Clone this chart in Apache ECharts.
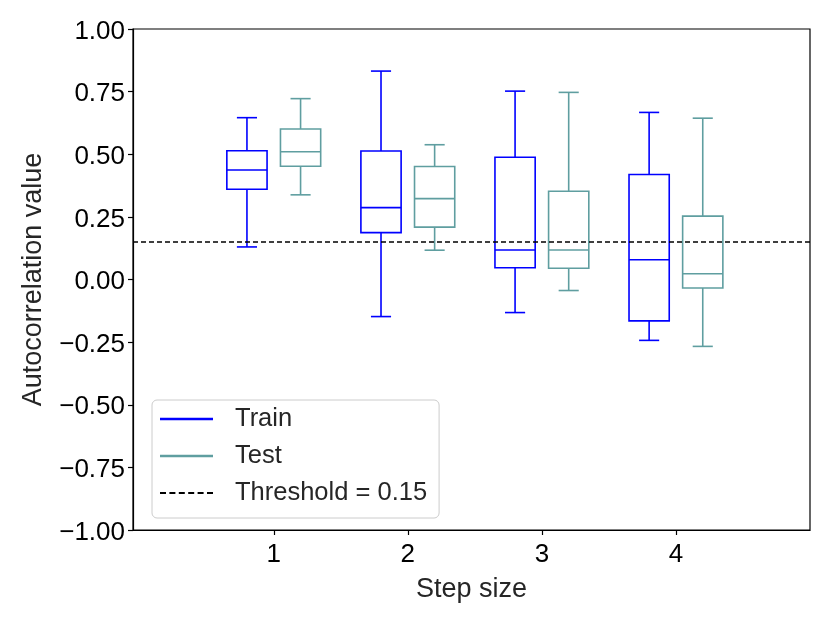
<!DOCTYPE html>
<html>
<head>
<meta charset="utf-8">
<script src="https://cdn.jsdelivr.net/npm/echarts@6/dist/echarts.min.js"></script>
<style>html,body{margin:0;padding:0;background:#fff;}#c{width:830px;height:623px;}</style>
</head>
<body>
<div id="c"></div>
<script>
var steps = [1, 2, 3, 4];
var trainMin = [0.13, -0.148, -0.132, -0.243];
var trainQ1  = [0.36, 0.187, 0.047, -0.165];
var trainMed = [0.437, 0.287, 0.118, 0.079];
var trainQ3  = [0.514, 0.513, 0.488, 0.419];
var trainMax = [0.646, 0.832, 0.752, 0.667];
var testMin = [0.338, 0.117, -0.044, -0.267];
var testQ1  = [0.452, 0.209, 0.045, -0.034];
var testMed = [0.51, 0.323, 0.118, 0.023];
var testQ3  = [0.601, 0.451, 0.352, 0.253];
var testMax = [0.722, 0.538, 0.747, 0.644];
var threshold = 0.15;
var yTicks = [-1, -0.75, -0.5, -0.25, 0, 0.25, 0.5, 0.75, 1];

var FONT = '"Liberation Sans", Arial, Helvetica, sans-serif';
var TRAIN_C = '#0000ff', TEST_C = '#5f9ea0';
var OFFSET = 0.2, BOXW = 0.3;

function build(mins, q1s, meds, q3s, maxs, off) {
  return steps.map(function (s, i) { return [s + off, mins[i], q1s[i], meds[i], q3s[i], maxs[i]]; });
}

function renderBox(color) {
  return function (params, api) {
    var x = api.value(0);
    var pMin = api.coord([x, api.value(1)]);
    var pQ1 = api.coord([x, api.value(2)]);
    var pMed = api.coord([x, api.value(3)]);
    var pQ3 = api.coord([x, api.value(4)]);
    var pMax = api.coord([x, api.value(5)]);
    var w = api.size([BOXW, 0])[0];
    var cx = pMed[0];
    var st = { stroke: color, lineWidth: 1.6, fill: null };
    function line(x1, y1, x2, y2) { return { type: 'line', shape: { x1: x1, y1: y1, x2: x2, y2: y2 }, style: st }; }
    return {
      type: 'group',
      children: [
        line(cx, pMin[1], cx, pQ1[1]),
        line(cx, pQ3[1], cx, pMax[1]),
        line(cx - w / 4, pMin[1], cx + w / 4, pMin[1]),
        line(cx - w / 4, pMax[1], cx + w / 4, pMax[1]),
        { type: 'rect', shape: { x: cx - w / 2, y: pQ3[1], width: w, height: pQ1[1] - pQ3[1] }, style: { stroke: color, lineWidth: 1.6, fill: 'rgba(0,0,0,0)' } },
        line(cx - w / 2, pMed[1], cx + w / 2, pMed[1])
      ]
    };
  };
}

var dashIcon = 'path://M0,0h6v2h-6zM9.4,0h6v2h-6zM18.8,0h6v2h-6zM28.2,0h6v2h-6zM37.6,0h6v2h-6zM47,0h6v2h-6z';

var chart = echarts.init(document.getElementById('c'), null, { renderer: 'canvas' });
chart.setOption({
  animation: false,
  backgroundColor: '#fff',
  grid: { left: 133, right: 20, top: 29, bottom: 93, show: true, borderColor: '#000', borderWidth: 1.2, containLabel: false },
  xAxis: {
    type: 'value', min: -0.05, max: 5,
    name: 'Step size', nameLocation: 'middle', nameGap: 46,
    nameTextStyle: { fontFamily: FONT, fontSize: 27, color: '#262626' },
    axisLine: { show: true, onZero: false, lineStyle: { color: '#000', width: 1.2 } },
    axisTick: { show: true, inside: false, length: 5, customValues: steps, lineStyle: { color: '#000', width: 1.2 } },
    axisLabel: { customValues: steps, fontFamily: FONT, fontSize: 26, color: '#000', margin: 12 },
    splitLine: { show: false }
  },
  yAxis: {
    type: 'value', min: -1, max: 1,
    name: 'Autocorrelation value', nameLocation: 'middle', nameGap: 86,
    nameTextStyle: { fontFamily: FONT, fontSize: 27, color: '#262626' },
    axisLine: { show: true, onZero: false, lineStyle: { color: '#000', width: 1.2 } },
    axisTick: { show: true, length: 5, customValues: yTicks, lineStyle: { color: '#000', width: 1.2 } },
    axisLabel: {
      customValues: yTicks, fontFamily: FONT, fontSize: 26, color: '#000', margin: 8,
      formatter: function (v) { return '{v|' + v.toFixed(2).replace('-', '\u2212') + '}'; },
      rich: { v: { fontFamily: FONT, fontSize: 26, color: '#000', padding: [5, 0, 0, 0] } }
    },
    splitLine: { show: false }
  },
  legend: {
    orient: 'vertical', left: 152, top: 400,
    backgroundColor: '#fff',
    borderColor: '#cccccc', borderWidth: 1, borderRadius: 5,
    padding: [6, 12, 12, 8],
    itemGap: 11, itemWidth: 53, itemHeight: 2.4,
    textStyle: { fontFamily: FONT, fontSize: 25.5, color: '#262626', padding: [0, 0, 0, 17] },
    data: [
      { name: 'Train', icon: 'rect', itemStyle: { color: TRAIN_C } },
      { name: 'Test', icon: 'rect', itemStyle: { color: TEST_C } },
      { name: 'Threshold = 0.15', icon: dashIcon, itemStyle: { color: '#000' } }
    ]
  },
  series: [
    {
      name: 'Threshold = 0.15', type: 'line', symbol: 'none', silent: true,
      data: [[-0.05, threshold], [5, threshold]],
      lineStyle: { color: '#000', width: 1.5, type: [5, 3] }, itemStyle: { color: '#000' }, z: 3
    },
    {
      name: 'Train', type: 'custom', renderItem: renderBox(TRAIN_C),
      itemStyle: { color: TRAIN_C },
      encode: { x: 0, y: [1, 2, 3, 4, 5] },
      data: build(trainMin, trainQ1, trainMed, trainQ3, trainMax, -OFFSET), z: 2
    },
    {
      name: 'Test', type: 'custom', renderItem: renderBox(TEST_C),
      itemStyle: { color: TEST_C },
      encode: { x: 0, y: [1, 2, 3, 4, 5] },
      data: build(testMin, testQ1, testMed, testQ3, testMax, OFFSET), z: 2
    }
  ]
});
</script>
</body>
</html>
